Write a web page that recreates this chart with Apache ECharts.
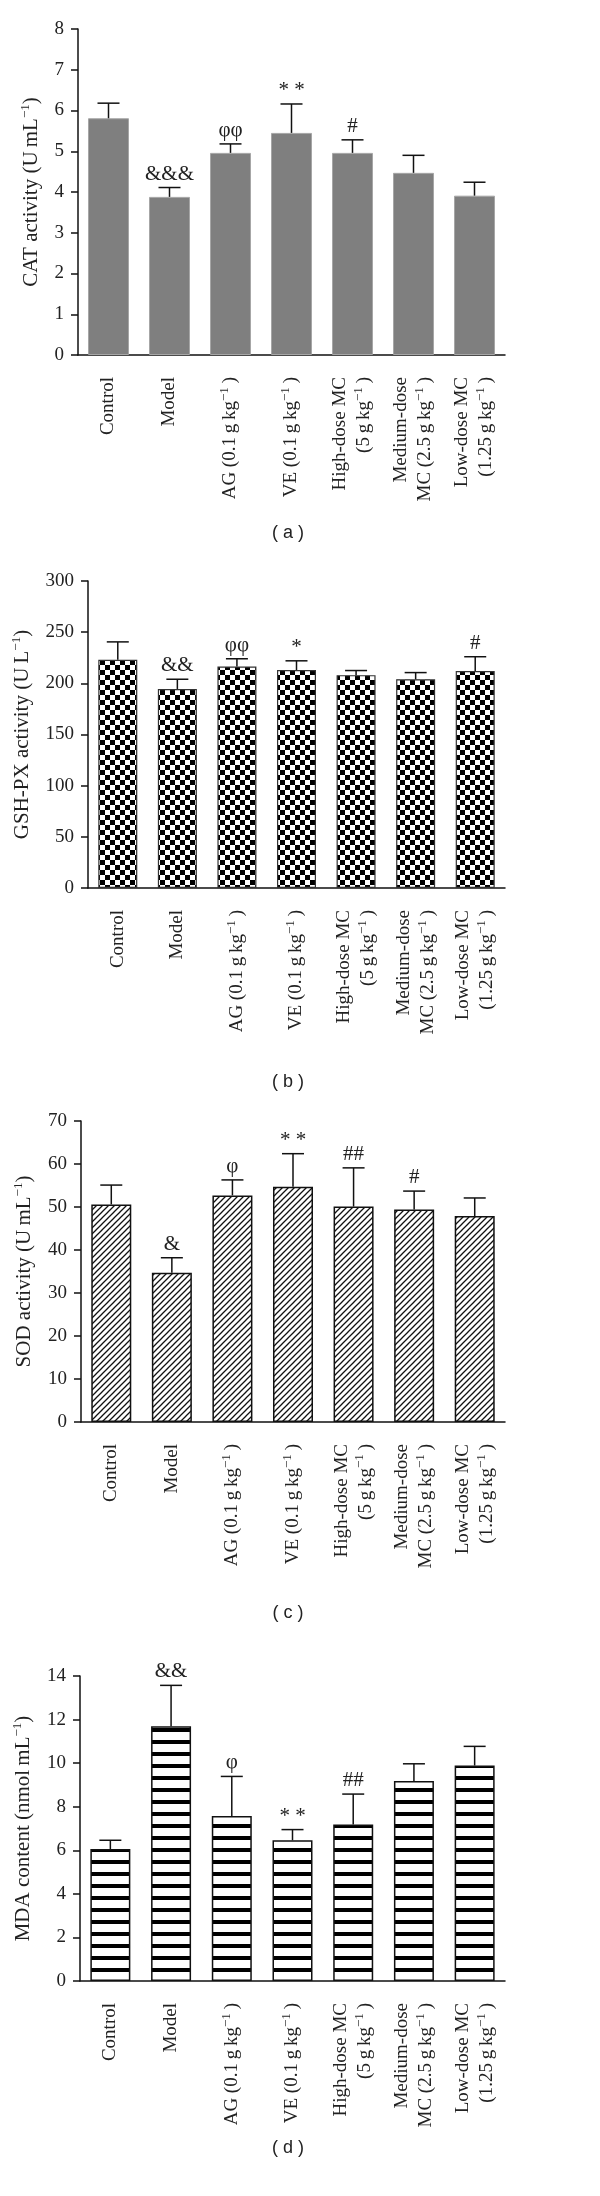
<!DOCTYPE html>
<html>
<head>
<meta charset="utf-8">
<script src="https://cdn.jsdelivr.net/npm/echarts@6/dist/echarts.min.js"></script>
<style>
html,body{margin:0;padding:0;background:#fff;}
#chart{width:600px;height:2196px;}
</style>
</head>
<body>
<div id="chart"></div>
<script>
// ---- data ----
const categories = [
  'Control',
  'Model',
  'AG (0.1\u2009g\u2009kg\u207B\u00B9\u2009)',
  'VE (0.1\u2009g\u2009kg\u207B\u00B9\u2009)',
  'High-dose MC\n(5\u2009g\u2009kg\u207B\u00B9\u2009)',
  'Medium-dose\nMC (2.5\u2009g\u2009kg\u207B\u00B9\u2009)',
  'Low-dose MC\n(1.25\u2009g\u2009kg\u207B\u00B9\u2009)'
];

const catMean  = [5.81, 3.88, 4.96, 5.45, 4.96, 4.47, 3.91];
const catUpper = [6.18, 4.11, 5.18, 6.16, 5.28, 4.90, 4.24];
const catMarks = ['', '&&&', '\u03C6\u03C6', '* *', '#', '', ''];

const gshMean  = [223, 194.5, 216.5, 213, 208, 204, 212];
const gshUpper = [240.5, 204, 224, 222, 212.5, 210.5, 226];
const gshMarks = ['', '&&', '\u03C6\u03C6', '*', '', '', '#'];

const sodMean  = [50.6, 34.7, 52.7, 54.7, 50.1, 49.4, 47.9];
const sodUpper = [55.1, 38.2, 56.3, 62.4, 59.1, 53.7, 52.1];
const sodMarks = ['', '&', '\u03C6', '* *', '##', '#', ''];

const mdaMean  = [6.06, 11.69, 7.57, 6.46, 7.18, 9.18, 9.89];
const mdaUpper = [6.46, 13.57, 9.39, 6.95, 8.58, 9.97, 10.77];
const mdaMarks = ['', '&&', '\u03C6', '* *', '##', '', ''];

const yNames = [
  'CAT activity (U\u2009mL\u207B\u00B9)',
  'GSH-PX activity (U\u2009L\u207B\u00B9)',
  'SOD activity (U\u2009mL\u207B\u00B9)',
  'MDA content (nmol\u2009mL\u207B\u00B9)'
];
const yMax = [8, 300, 70, 14];
const yInterval = [1, 50, 10, 2];
const panelLabels = ['( a )', '( b )', '( c )', '( d )'];

// superscript "⁻¹" rendered as raised rich-text token
function supRich(s) {
  return s.split('\u207B\u00B9').join('{s|\u22121}');
}

// ---- patterns (styling only) ----
function makeCanvas(w, h, draw) {
  const c = document.createElement('canvas');
  c.width = w; c.height = h;
  const ctx = c.getContext('2d');
  draw(ctx, w, h);
  return c;
}
const checker = makeCanvas(10, 10, (ctx) => {
  ctx.fillStyle = '#fff'; ctx.fillRect(0, 0, 10, 10);
  ctx.fillStyle = '#000'; ctx.fillRect(0, 0, 5, 5); ctx.fillRect(5, 5, 5, 5);
});
const hatch = makeCanvas(6, 6, (ctx) => {
  ctx.fillStyle = '#fff'; ctx.fillRect(0, 0, 6, 6);
  ctx.strokeStyle = '#111'; ctx.lineWidth = 1.3;
  ctx.beginPath();
  ctx.moveTo(-1, 7); ctx.lineTo(7, -1);
  ctx.moveTo(-1, 1); ctx.lineTo(1, -1);
  ctx.moveTo(5, 7); ctx.lineTo(7, 5);
  ctx.stroke();
});
const stripes = makeCanvas(4, 12, (ctx) => {
  ctx.fillStyle = '#fff'; ctx.fillRect(0, 0, 4, 12);
  ctx.fillStyle = '#000'; ctx.fillRect(0, 0, 4, 4);
});

const panels = [
  { mean: catMean, upper: catUpper, marks: catMarks,
    fill: '#7f7f7f', border: '#a6a6a6', bw: 1, barWidth: 41,
    grid: { left: 78, top: 29, width: 427, height: 326 }, nameGap: 34 },
  { mean: gshMean, upper: gshUpper, marks: gshMarks,
    fill: { image: checker, repeat: 'repeat' }, border: '#333', bw: 1.2, barWidth: 39,
    grid: { left: 88, top: 581, width: 417, height: 307 }, nameGap: 43 },
  { mean: sodMean, upper: sodUpper, marks: sodMarks,
    fill: { image: hatch, repeat: 'repeat' }, border: '#111', bw: 1.5, barWidth: 40,
    grid: { left: 81, top: 1121, width: 424, height: 301 }, nameGap: 36 },
  { mean: mdaMean, upper: mdaUpper, marks: mdaMarks,
    fill: { image: stripes, repeat: 'repeat' }, border: '#111', bw: 1.5, barWidth: 40,
    grid: { left: 80, top: 1676, width: 425, height: 305 }, nameGap: 35 }
];
const labelTops = [519, 1068, 1599, 2134];

const serif = 'Liberation Serif';
const ink = '#222';
const supStyle = { fontFamily: serif, fontSize: 13, color: ink, verticalAlign: 'top', lineHeight: 10 };

const grids = [], xAxes = [], yAxes = [], series = [], titles = [];
panels.forEach((p, k) => {
  grids.push(p.grid);
  xAxes.push({
    type: 'category', gridIndex: k, data: categories,
    axisLine: { lineStyle: { color: '#111', width: 1.5 } },
    axisTick: { alignWithLabel: true, length: 10, lineStyle: { color: '#111', width: 1.5 } },
    axisLabel: { rotate: 90, interval: 0, margin: 22, fontFamily: serif, fontSize: 19,
      color: ink, lineHeight: 24, formatter: (v) => supRich(v),
      rich: { s: supStyle } }
  });
  yAxes.push({
    type: 'value', gridIndex: k, min: 0, max: yMax[k], interval: yInterval[k],
    splitLine: { show: false },
    axisLine: { show: true, lineStyle: { color: '#111', width: 1.5 } },
    axisTick: { show: true, length: 7, lineStyle: { color: '#111', width: 1.5 } },
    axisLabel: { fontFamily: serif, fontSize: 19, color: ink, margin: 14 },
    name: supRich(yNames[k]), nameLocation: 'middle', nameGap: p.nameGap,
    nameTextStyle: { fontFamily: serif, fontSize: 21, color: ink, lineHeight: 25,
      rich: { s: supStyle } }
  });
  series.push({
    type: 'bar', xAxisIndex: k, yAxisIndex: k, data: p.mean,
    barWidth: p.barWidth, silent: true,
    itemStyle: { color: p.fill, borderColor: p.border, borderWidth: p.bw }
  });
  const errData = p.mean.map((m, i) => [i, m, p.upper[i]]);
  series.push({
    type: 'custom', xAxisIndex: k, yAxisIndex: k, data: errData, z: 5, silent: true,
    clip: false,
    renderItem: (params, api) => {
      const base = api.coord([api.value(0), api.value(1)]);
      const top = api.coord([api.value(0), api.value(2)]);
      const half = 11;
      const children = [
        { type: 'line', shape: { x1: base[0], y1: base[1], x2: top[0], y2: top[1] },
          style: { stroke: '#111', lineWidth: 1.5 } },
        { type: 'line', shape: { x1: top[0] - half, y1: top[1], x2: top[0] + half, y2: top[1] },
          style: { stroke: '#111', lineWidth: 1.5 } }
      ];
      const mark = p.marks[params.dataIndex];
      if (mark) {
        children.push({ type: 'text', x: top[0], y: top[1] - 3,
          style: { text: mark, fill: ink, font: '21px "Liberation Serif"',
            textAlign: 'center', textVerticalAlign: 'bottom' } });
      }
      return { type: 'group', children };
    }
  });
  titles.push({ text: panelLabels[k], left: 283, top: labelTops[k], textAlign: 'center',
    textStyle: { fontFamily: 'Liberation Sans', fontSize: 18, fontWeight: 'normal', color: ink } });
});

const chart = echarts.init(document.getElementById('chart'), null, { renderer: 'canvas' });
chart.setOption({
  animation: false,
  backgroundColor: '#fff',
  title: titles,
  grid: grids,
  xAxis: xAxes,
  yAxis: yAxes,
  series: series
});
</script>
</body>
</html>
